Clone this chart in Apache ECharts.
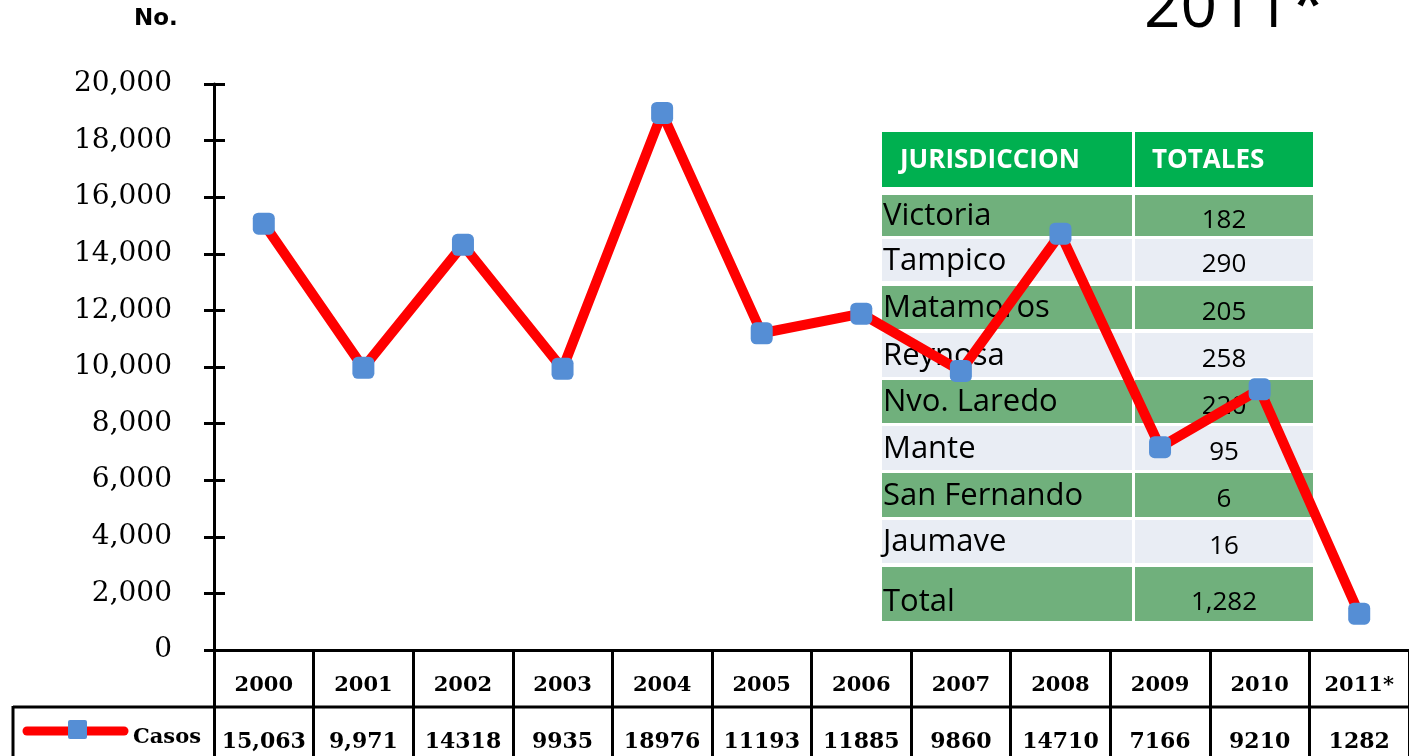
<!DOCTYPE html>
<html>
<head>
<meta charset="utf-8">
<script src="https://cdn.jsdelivr.net/npm/echarts@6/dist/echarts.min.js"></script>
<style>
  html, body { margin: 0; padding: 0; background: #fff; }
  #chart { width: 1409px; height: 756px; }
</style>
</head>
<body>
<div id="chart"></div>
<script>
// Casos por año, 2000–2011* — line with data table + jurisdiction box

const years = ['2000', '2001', '2002', '2003', '2004', '2005', '2006', '2007', '2008', '2009', '2010', '2011*'];
const casos = [15063, 9971, 14318, 9935, 18976, 11193, 11885, 9860, 14710, 7166, 9210, 1282];
// as printed in the data table under the axis
const casosLabels = ['15,063', '9,971', '14318', '9935', '18976', '11193', '11885', '9860', '14710', '7166', '9210', '1282'];

const jurisdicciones = ['Victoria', 'Tampico', 'Matamoros', 'Reynosa', 'Nvo. Laredo', 'Mante', 'San Fernando', 'Jaumave', 'Total'];
const totales = ['182', '290', '205', '258', '220', '95', '6', '16', '1,282'];

const SERIF = '"DejaVu Serif", serif';
const SANS = '"Open Sans", "Noto Sans", sans-serif';
const RED = '#ff0000';
const BLUE = '#558ed5';

const chart = echarts.init(document.getElementById('chart'));

// jurisdiction table, drawn behind the line
function buildJurisTable() {
  const x0 = 882, xMid = 1132, x1 = 1313;
  const els = [];
  const hdrTop = 132, hdrH = 55;
  els.push({ type: 'rect', shape: { x: x0, y: hdrTop, width: xMid - x0, height: hdrH }, style: { fill: '#00b050' } });
  els.push({ type: 'rect', shape: { x: xMid + 3, y: hdrTop, width: x1 - xMid - 3, height: hdrH }, style: { fill: '#00b050' } });
  els.push({ type: 'text', x: 900, y: hdrTop + hdrH / 2 + 1, style: { text: 'JURISDICCION', fill: '#fff', font: 'bold 26px ' + SANS, verticalAlign: 'middle' } });
  els.push({ type: 'text', x: 1152, y: hdrTop + hdrH / 2 + 1, style: { text: 'TOTALES', fill: '#fff', font: 'bold 26px ' + SANS, verticalAlign: 'middle' } });

  const rowTops = [195, 239, 286, 333, 380, 426, 473, 520, 567];
  const rowBots = [236, 281, 329, 377, 423, 470, 517, 563, 621];
  jurisdicciones.forEach((name, i) => {
    const fill = i % 2 === 0 ? '#70b07c' : '#e9edf4';
    const top = rowTops[i], h = rowBots[i] - top;
    els.push({ type: 'rect', shape: { x: x0, y: top, width: xMid - x0, height: h }, style: { fill } });
    els.push({ type: 'rect', shape: { x: xMid + 3, y: top, width: x1 - xMid - 3, height: h }, style: { fill } });
    els.push({ type: 'text', x: 883, y: top + h / 2 + (i === 8 ? 8 : 1), style: { text: name, fill: '#000', font: '31px ' + SANS, verticalAlign: 'middle' } });
    els.push({ type: 'text', x: 1224, y: top + h / 2 + (i === 8 ? 9 : 5), style: { text: totales[i], fill: '#000', font: '26px ' + SANS, align: 'center', verticalAlign: 'middle' } });
  });
  return els;
}

const option = {
  animation: false,
  grid: { left: 214, right: 0, top: 84, bottom: 106, containLabel: false },
  xAxis: [
    {
      type: 'category',
      data: years,
      boundaryGap: true,
      axisLine: { lineStyle: { color: '#000', width: 3 } },
      axisTick: { show: true, length: 106, inside: false, lineStyle: { color: '#000', width: 3 } },
      axisLabel: {
        interval: 0, margin: 36, verticalAlign: 'middle',
        fontFamily: SERIF, fontWeight: 'bold', fontSize: 21, color: '#000'
      }
    },
    {
      type: 'category',
      data: years,
      position: 'bottom',
      offset: 0,
      boundaryGap: true,
      axisLine: { show: false },
      axisTick: { show: false },
      axisLabel: {
        interval: 0, margin: 92, verticalAlign: 'middle',
        fontFamily: SERIF, fontWeight: 'bold', fontSize: 22, color: '#000',
        formatter: (v, i) => casosLabels[i]
      }
    }
  ],
  yAxis: [
    {
      type: 'value',
      min: 0, max: 20000, interval: 2000,
      axisLine: { show: true, lineStyle: { color: '#000', width: 3 } },
      axisTick: { show: true, length: 10, lineStyle: { color: '#000', width: 3 } },
      splitLine: { show: false },
      axisLabel: {
        margin: 42, fontFamily: SERIF, fontSize: 28, color: '#000',
        formatter: v => v.toLocaleString('en-US')
      }
    },
    {
      type: 'value',
      position: 'left',
      min: 0, max: 20000, interval: 2000,
      axisLine: { show: false },
      axisTick: { show: true, inside: true, length: 11, lineStyle: { color: '#000', width: 3 } },
      axisLabel: { show: false },
      splitLine: { show: false }
    }
  ],
  graphic: [
    { type: 'text', left: 134, top: 8, style: { text: 'No.', font: 'bold 23px "DejaVu Sans", sans-serif', fill: '#000' } },
    { type: 'text', x: 1144, y: -23, style: { text: '2011*', font: '64px ' + SANS, fill: '#000' } },
    // bottom row of the data table
    { type: 'line', shape: { x1: 13, y1: 707, x2: 1409, y2: 707 }, style: { stroke: '#000', lineWidth: 3 } },
    { type: 'line', shape: { x1: 13, y1: 706, x2: 13, y2: 756 }, style: { stroke: '#000', lineWidth: 3 } },
    // legend key for the Casos row
    { type: 'line', z: 10, shape: { x1: 27, y1: 731, x2: 124, y2: 731 }, style: { stroke: RED, lineWidth: 9, lineCap: 'round' } },
    { type: 'rect', z: 11, shape: { x: 68, y: 720, width: 19, height: 19, r: 2 }, style: { fill: BLUE } },
    { type: 'text', z: 10, x: 133, y: 738, style: { text: 'Casos', font: 'bold 21px ' + SERIF, fill: '#000', verticalAlign: 'middle' } },
    { type: 'group', z: -1, children: buildJurisTable() }
  ],
  series: [
    {
      name: 'Casos',
      type: 'line',
      data: casos,
      z: 5,
      symbol: 'roundRect',
      symbolSize: 22,
      itemStyle: { color: BLUE },
      lineStyle: { color: RED, width: 10 },
      emphasis: { disabled: true }
    }
  ]
};

chart.setOption(option);
</script>
</body>
</html>
